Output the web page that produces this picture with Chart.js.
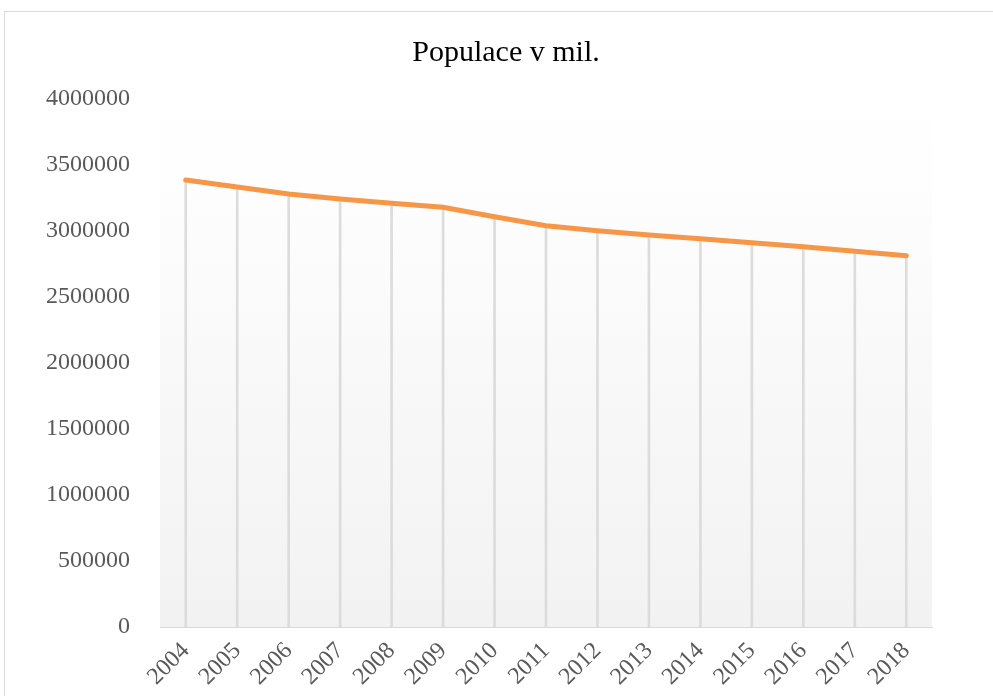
<!DOCTYPE html>
<html>
<head>
<meta charset="utf-8">
<script src="https://cdn.jsdelivr.net/npm/chart.js@4/dist/chart.umd.min.js"></script>
<style>
    body { margin: 0; background: #fff; }
    #frame { position: absolute; left: 4px; top: 11px; width: 1000px; height: 700px; border: 1px solid #d9d9d9; }
    #wrap { position: absolute; left: 0; top: 0; width: 993px; height: 696px; }
</style>
</head>
<body>
<div id="frame"></div>
<div id="wrap"><canvas id="chart"></canvas></div>
<script>
const years = ['2004', '2005', '2006', '2007', '2008', '2009', '2010', '2011',
    '2012', '2013', '2014', '2015', '2016', '2017', '2018'];
const population = [3386000, 3333000, 3280000, 3242000, 3210000, 3180000, 3108000, 3040000,
    3002000, 2970000, 2942000, 2911000, 2881000, 2846000, 2813000];
const chartTitle = 'Populace v mil.';

const serif = '"Liberation Serif", "Times New Roman", serif';

// light fill of the plot area, white at top to grey at the bottom
const plotBackground = {
    id: 'plotBackground',
    beforeDatasetsDraw(chart) {
        const { ctx, chartArea } = chart;
        const g = ctx.createLinearGradient(0, chartArea.top, 0, chartArea.bottom);
        g.addColorStop(0, 'rgba(255,255,255,1)');
        g.addColorStop(0.12, 'rgba(254,254,254,1)');
        g.addColorStop(1, 'rgba(242,242,242,1)');
        ctx.save();
        ctx.fillStyle = g;
        ctx.fillRect(chartArea.left, chartArea.top, chartArea.right - chartArea.left, chartArea.bottom - chartArea.top);
        ctx.restore();
    }
};

const ctx = document.getElementById('chart');
new Chart(ctx, {
    data: {
        labels: years,
        datasets: [{
            type: 'line',
            label: 'Populace',
            data: population,
            borderColor: '#F79646',
            borderWidth: 5,
            borderCapStyle: 'round',
            pointRadius: 0,
            fill: false,
            tension: 0,
            order: 0
        }, {
            // drop lines under each point
            type: 'bar',
            label: 'drop',
            data: population,
            backgroundColor: '#dcdcdc',
            barThickness: 2,
            order: 1
        }]
    },
    options: {
        responsive: true,
        maintainAspectRatio: false,
        animation: false,
        layout: {
            padding: { left: 19, right: 0, top: 0, bottom: 0 }
        },
        plugins: {
            legend: { display: false },
            tooltip: { enabled: false },
            title: {
                display: true,
                text: chartTitle,
                color: '#000',
                font: { family: serif, size: 30, weight: 'normal' },
                padding: { top: 35, bottom: 28 }
            }
        },
        scales: {
            x: {
                offset: true,
                grid: { display: false },
                border: { display: true, color: '#d9d9d9', width: 1 },
                ticks: {
                    color: '#595959',
                    font: { family: serif, size: 24 },
                    maxRotation: 45,
                    minRotation: 45,
                    padding: 2
                },
                afterFit: function(scale) { scale.height = 69; }
            },
            y: {
                min: 0,
                max: 4000000,
                grid: { display: false },
                border: { display: false },
                ticks: {
                    stepSize: 500000,
                    color: '#595959',
                    font: { family: serif, size: 24 },
                    padding: 22,
                    callback: function(value) { return String(value); }
                },
                afterFit: function(scale) { scale.width = 141; }
            },
            // empty right-hand axis, only keeps the right margin
            yRight: {
                type: 'linear',
                position: 'right',
                grid: { display: false },
                border: { display: false },
                ticks: { display: false },
                afterFit: function(scale) { scale.width = 61; }
            }
        }
    },
    plugins: [plotBackground]
});
</script>
</body>
</html>
